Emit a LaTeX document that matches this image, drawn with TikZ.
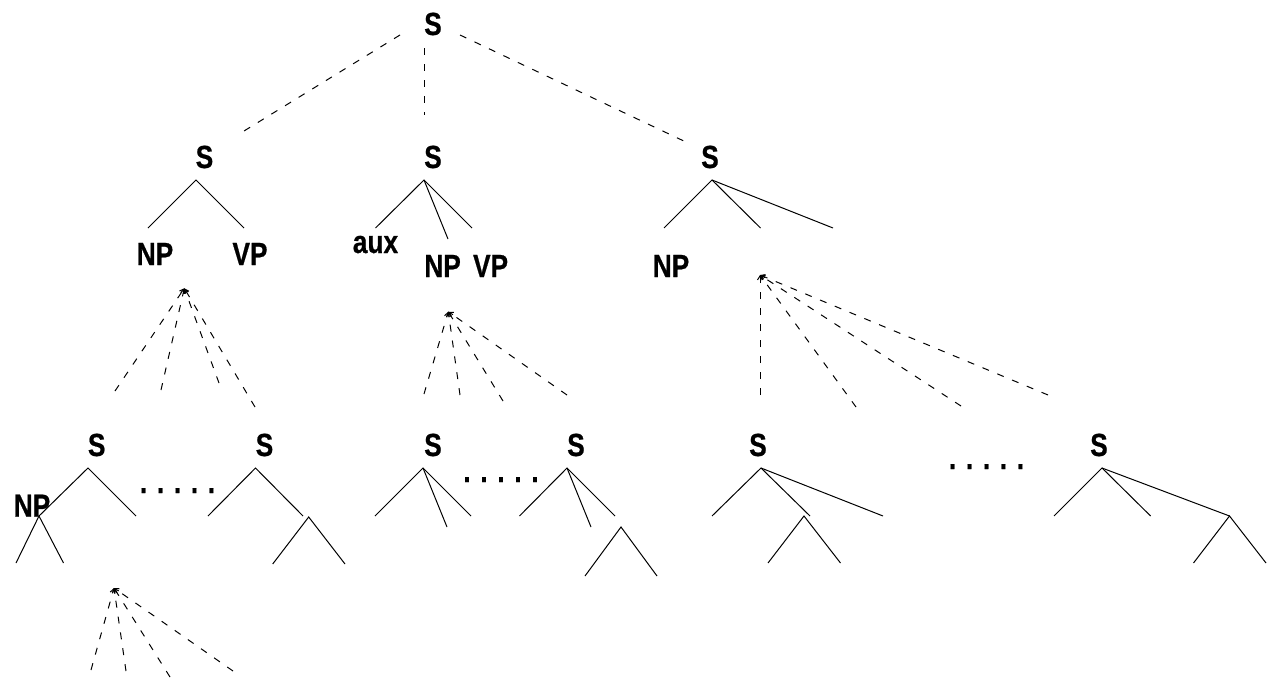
\documentclass[tikz,border=0pt]{standalone}
\usepackage{fontspec}
\newfontfamily\lblfont{Liberation Sans}[FakeStretch=0.82,FakeBold=0.6]
\usetikzlibrary{arrows.meta}
\tikzset{
  lbl/.style={font={\lblfont\bfseries\fontsize{32}{36}\selectfont}, inner sep=0pt, anchor=base},
  br/.style={line width=1pt},
  dsh/.style={line width=1pt, dash pattern=on 7pt off 9pt},
  fan/.style={dsh, -{Straight Barb[length=4pt,width=5pt,line width=1pt]}}
}
\begin{document}
\begin{tikzpicture}[x=1pt,y=-1pt]
\useasboundingbox (0,0) rectangle (1267,680);
% ---------- labels ----------
\node[lbl] (sTop) at (433,35) {S};
\node[lbl] (sL) at (204.5,168) {S};
\node[lbl] (sM) at (433,168) {S};
\node[lbl] (sR) at (710,168) {S};
\node[lbl] (npL) at (155,265) {NP};
\node[lbl] (vpL) at (250,265) {VP};
\node[lbl] (aux) at (375.5,253) {aux};
\node[lbl] (npM) at (442.6,277) {NP};
\node[lbl] (vpM) at (490.6,277) {VP};
\node[lbl] (npR) at (671,277) {NP};
\node[lbl] (s1) at (96.7,456) {S};
\node[lbl] (s2) at (264.5,456) {S};
\node[lbl] (s3) at (433,456) {S};
\node[lbl] (s4) at (576,456) {S};
\node[lbl] (s5) at (758,456) {S};
\node[lbl] (s6) at (1099,456) {S};
\node[lbl] (npS) at (32,516.7) {NP};
\node[lbl] (dotsA) at (177.5,493) {. . . . .};
\node[lbl] (dotsB) at (501,482) {. . . . .};
\node[lbl] (dotsC) at (986.5,469) {. . . . .};
% ---------- top dashed links ----------
\coordinate (tA) at (400,35);  \coordinate (tAe) at (244,131);
\coordinate (tB) at (424,48);  \coordinate (tBe) at (424,115);
\coordinate (tC) at (460,35);  \coordinate (tCe) at (688,143);
\draw[dsh] (tA) -- (tAe);
\draw[dsh] (tB) -- (tBe);
\draw[dsh] (tC) -- (tCe);
% ---------- level 2 branches ----------
\coordinate (a1) at (196,180);
\coordinate (a1l) at (148,228); \coordinate (a1r) at (244,228);
\draw[br] (a1l) -- (a1) -- (a1r);
\coordinate (a2) at (424,180);
\coordinate (a2l) at (375.5,228); \coordinate (a2m) at (448,239); \coordinate (a2r) at (472,228);
\draw[br] (a2l) -- (a2) -- (a2r);
\draw[br] (a2) -- (a2m);
\coordinate (a3) at (712,180);
\coordinate (a3l) at (664,228); \coordinate (a3m) at (760.5,228); \coordinate (a3r) at (833,228);
\draw[br] (a3l) -- (a3) -- (a3m);
\draw[br] (a3) -- (a3r);
% ---------- fans ----------
\coordinate (f1) at (184.3,288.3);
\coordinate (f1a) at (115,391); \coordinate (f1b) at (161,390);
\coordinate (f1c) at (219,383); \coordinate (f1d) at (255,407);
\foreach \e in {f1a,f1b,f1c,f1d} \draw[fan] (\e) -- (f1);
\coordinate (f2) at (448.3,311.7);
\coordinate (f2a) at (424,394); \coordinate (f2b) at (460,395);
\coordinate (f2c) at (503,401); \coordinate (f2d) at (567,395);
\foreach \e in {f2a,f2b,f2c,f2d} \draw[fan] (\e) -- (f2);
\coordinate (f3) at (760,275);
\coordinate (f3a) at (760,395); \coordinate (f3b) at (856,407);
\coordinate (f3c) at (961,406); \coordinate (f3d) at (1048,395);
\foreach \e in {f3a,f3b,f3c,f3d} \draw[fan] (\e) -- (f3);
\coordinate (f4) at (114,588);
\coordinate (f4a) at (91,670); \coordinate (f4b) at (126,671);
\coordinate (f4c) at (170,677); \coordinate (f4d) at (233,671);
\foreach \e in {f4a,f4b,f4c,f4d} \draw[fan] (\e) -- (f4);
% ---------- level 3 trees ----------
% T1
\coordinate (b1) at (88,468);
\coordinate (b1l) at (39,516); \coordinate (b1r) at (136,516);
\draw[br] (b1l) -- (b1) -- (b1r);
\coordinate (b1ll) at (16,563); \coordinate (b1lr) at (63.5,563);
\draw[br] (b1ll) -- (b1l) -- (b1lr);
% T2
\coordinate (b2) at (255.5,468);
\coordinate (b2l) at (208,516); \coordinate (b2r) at (303,516);
\draw[br] (b2l) -- (b2) -- (b2r);
\coordinate (c2) at (308.7,517);
\coordinate (c2l) at (272.7,564); \coordinate (c2r) at (345,564);
\draw[br] (c2l) -- (c2) -- (c2r);
% T3
\coordinate (b3) at (423,468);
\coordinate (b3l) at (375,516); \coordinate (b3m) at (447,527); \coordinate (b3r) at (471,516);
\draw[br] (b3l) -- (b3) -- (b3r);
\draw[br] (b3) -- (b3m);
% T4
\coordinate (b4) at (567,468);
\coordinate (b4l) at (519.5,516); \coordinate (b4m) at (591,527); \coordinate (b4r) at (615,516);
\draw[br] (b4l) -- (b4) -- (b4r);
\draw[br] (b4) -- (b4m);
\coordinate (c4) at (621,527);
\coordinate (c4l) at (585,576); \coordinate (c4r) at (657,576);
\draw[br] (c4l) -- (c4) -- (c4r);
% T5
\coordinate (b5) at (761,468);
\coordinate (b5l) at (712,516); \coordinate (b5m) at (810,516); \coordinate (b5r) at (883,516);
\draw[br] (b5l) -- (b5) -- (b5m);
\draw[br] (b5) -- (b5r);
\coordinate (c5) at (804,516);
\coordinate (c5l) at (768,563); \coordinate (c5r) at (840.5,563);
\draw[br] (c5l) -- (c5) -- (c5r);
% T6
\coordinate (b6) at (1102,468);
\coordinate (b6l) at (1054,516); \coordinate (b6m) at (1150.6,516); \coordinate (b6r) at (1229.5,516);
\draw[br] (b6l) -- (b6) -- (b6m);
\draw[br] (b6) -- (b6r);
\coordinate (c6l) at (1193.5,563); \coordinate (c6r) at (1266,563);
\draw[br] (c6l) -- (b6r) -- (c6r);
\end{tikzpicture}
\end{document}
